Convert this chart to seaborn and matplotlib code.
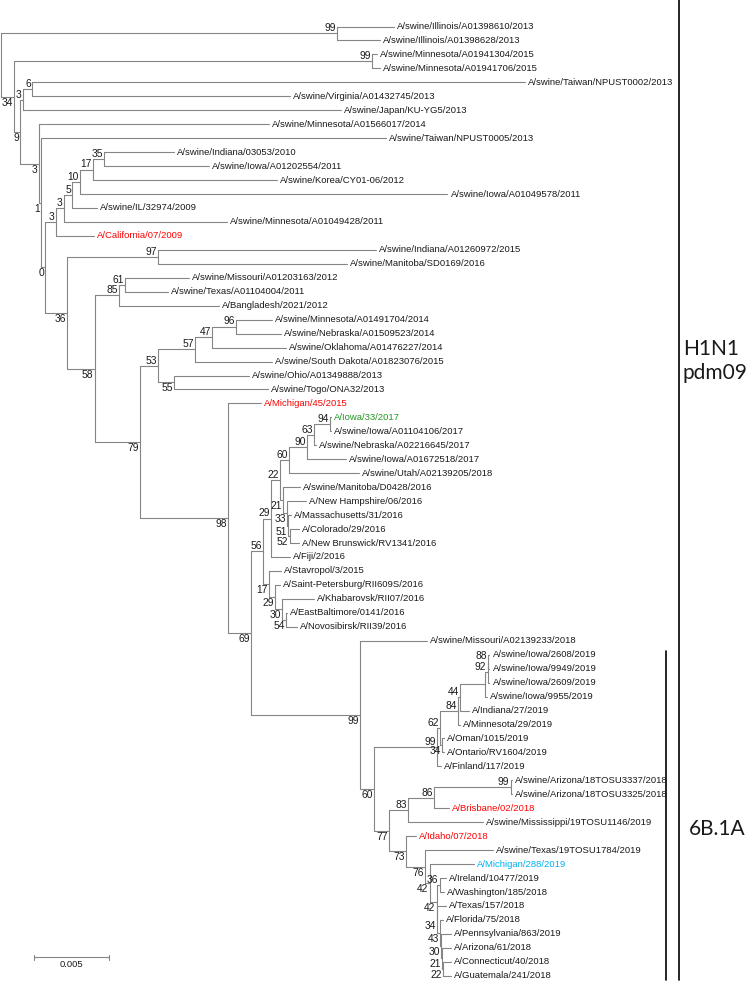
"""
Phylogenetic tree of H1N1pdm09 HA sequences (MEGA style)
"""
import numpy as np
import pandas as pd
import matplotlib
matplotlib.use("Agg")
import matplotlib.pyplot as plt
import matplotlib.transforms as mtransforms
import seaborn as sns

# leaves, top to bottom
leaf_names = [
    "A/swine/Illinois/A01398610/2013", "A/swine/Illinois/A01398628/2013",
    "A/swine/Minnesota/A01941304/2015", "A/swine/Minnesota/A01941706/2015",
    "A/swine/Taiwan/NPUST0002/2013", "A/swine/Virginia/A01432745/2013",
    "A/swine/Japan/KU-YG5/2013", "A/swine/Minnesota/A01566017/2014",
    "A/swine/Taiwan/NPUST0005/2013", "A/swine/Indiana/03053/2010",
    "A/swine/Iowa/A01202554/2011", "A/swine/Korea/CY01-06/2012",
    "A/swine/Iowa/A01049578/2011", "A/swine/IL/32974/2009",
    "A/swine/Minnesota/A01049428/2011", "A/California/07/2009",
    "A/swine/Indiana/A01260972/2015", "A/swine/Manitoba/SD0169/2016",
    "A/swine/Missouri/A01203163/2012", "A/swine/Texas/A01104004/2011",
    "A/Bangladesh/2021/2012", "A/swine/Minnesota/A01491704/2014",
    "A/swine/Nebraska/A01509523/2014", "A/swine/Oklahoma/A01476227/2014",
    "A/swine/South Dakota/A01823076/2015", "A/swine/Ohio/A01349888/2013",
    "A/swine/Togo/ONA32/2013", "A/Michigan/45/2015",
    "A/Iowa/33/2017", "A/swine/Iowa/A01104106/2017",
    "A/swine/Nebraska/A02216645/2017", "A/swine/Iowa/A01672518/2017",
    "A/swine/Utah/A02139205/2018", "A/swine/Manitoba/D0428/2016",
    "A/New Hampshire/06/2016", "A/Massachusetts/31/2016",
    "A/Colorado/29/2016", "A/New Brunswick/RV1341/2016",
    "A/Fiji/2/2016", "A/Stavropol/3/2015",
    "A/Saint-Petersburg/RII609S/2016", "A/Khabarovsk/RII07/2016",
    "A/EastBaltimore/0141/2016", "A/Novosibirsk/RII39/2016",
    "A/swine/Missouri/A02139233/2018", "A/swine/Iowa/2608/2019",
    "A/swine/Iowa/9949/2019", "A/swine/Iowa/2609/2019",
    "A/swine/Iowa/9955/2019", "A/Indiana/27/2019",
    "A/Minnesota/29/2019", "A/Oman/1015/2019",
    "A/Ontario/RV1604/2019", "A/Finland/117/2019",
    "A/swine/Arizona/18TOSU3337/2018", "A/swine/Arizona/18TOSU3325/2018",
    "A/Brisbane/02/2018", "A/swine/Mississippi/19TOSU1146/2019",
    "A/Idaho/07/2018", "A/swine/Texas/19TOSU1784/2019",
    "A/Michigan/288/2019", "A/Ireland/10477/2019",
    "A/Washington/185/2018", "A/Texas/157/2018",
    "A/Florida/75/2018", "A/Pennsylvania/863/2019",
    "A/Arizona/61/2018", "A/Connecticut/40/2018",
    "A/Guatemala/241/2018",
]

# distance from root (substitutions/site) of each leaf
leaf_depth = [
    0.02625, 0.02531, 0.02509, 0.02531, 0.03495, 0.01931, 0.02269, 0.01791,
    0.02569, 0.01158, 0.01391, 0.01842, 0.02980, 0.00640, 0.01509, 0.00625,
    0.02502, 0.02309, 0.01258, 0.01118, 0.01458, 0.01813, 0.01869, 0.01902,
    0.01807, 0.01658, 0.01785, 0.01735, 0.02205, 0.02205, 0.02102, 0.02302,
    0.02391, 0.01995, 0.02035, 0.01935, 0.01991, 0.01991, 0.01931, 0.01869,
    0.01865, 0.02091, 0.01913, 0.01975, 0.02842, 0.03260, 0.03260, 0.03260,
    0.03242, 0.03125, 0.03065, 0.02958, 0.02958, 0.02935, 0.03413, 0.03413,
    0.02987, 0.03218, 0.02773, 0.03280, 0.03158, 0.02969, 0.02958, 0.02969,
    0.02951, 0.03002, 0.03002, 0.03002, 0.03002,
]

leaf_colors = {
    "A/California/07/2009": "#ff0000",
    "A/Michigan/45/2015": "#ff0000",
    "A/Brisbane/02/2018": "#ff0000",
    "A/Idaho/07/2018": "#ff0000",
    "A/Iowa/33/2017": "#1f9a1f",
    "A/Michigan/288/2019": "#00b0f0",
}

# internal nodes: (upper child, lower child); ints are leaf indices
node_ids = [
    "root", "ill", "n34", "mn", "n9", "n3a", "n6", "n3b", "n1", "n0",
    "n3d", "n3c", "n5", "n10", "n17", "n35", "n36", "n97", "n58", "n85",
    "n61", "n79", "n53", "n57", "n47", "n96", "n55", "n98", "n69", "n56",
    "n29a", "n22", "n60a", "n90", "n63", "n94", "n21", "n33", "n51", "n52",
    "n17b", "n29b", "n30", "n54", "n99c", "n60b", "n99d", "n62", "n84", "n44",
    "niowa", "n92", "n88", "n34o", "n77", "n83", "n86", "n99e", "n73", "n76",
    "n42a", "n42b", "n36b", "n34b", "n43", "n30b", "n21b", "n22b",
]
node_children = [
    ("ill", "n34"), (0, 1), ("mn", "n9"), (2, 3), ("n3a", "n3b"),
    ("n6", 6), (4, 5), (7, "n1"), (8, "n0"), ("n3d", "n36"),
    ("n3c", 15), ("n5", 14), ("n10", 13), ("n17", 12), ("n35", 11),
    (9, 10), ("n97", "n58"), (16, 17), ("n85", "n79"), ("n61", 20),
    (18, 19), ("n53", "n98"), ("n57", "n55"), ("n47", 24), ("n96", 23),
    (21, 22), (25, 26), (27, "n69"), ("n56", "n99c"), ("n29a", "n17b"),
    ("n22", 38), ("n60a", "n21"), ("n90", 32), ("n63", 31), ("n94", 30),
    (28, 29), (33, "n33"), (34, "n51"), (35, "n52"), (36, 37),
    (39, "n29b"), (40, "n30"), (41, "n54"), (42, 43), (44, "n60b"),
    ("n99d", "n77"), ("n62", 53), ("n84", "n34o"), ("n44", 50), ("niowa", 49),
    ("n92", 48), ("n88", 47), (45, 46), (51, 52), ("n83", "n73"),
    ("n86", 57), ("n99e", 56), (54, 55), (58, "n76"), (59, "n42a"),
    (60, "n42b"), ("n36b", "n34b"), (61, 62), (63, "n43"), (64, "n30b"),
    (65, "n21b"), (66, "n22b"), (67, 68),
]
node_depth = [
    0.0, 0.02245, 0.00089, 0.02480, 0.00133, 0.00149, 0.00211, 0.00255, 0.00273, 0.00300,
    0.00367, 0.00422, 0.00478, 0.00529, 0.00615, 0.00689, 0.00445, 0.01049, 0.00627, 0.00793,
    0.00829, 0.00929, 0.01049, 0.01298, 0.01411, 0.01569, 0.01158, 0.01515, 0.01669, 0.01751,
    0.01805, 0.01862, 0.01922, 0.02045, 0.02089, 0.02195, 0.01885, 0.01911, 0.01918, 0.01927,
    0.01789, 0.01831, 0.01878, 0.01905, 0.02400, 0.02493, 0.02911, 0.02929, 0.03050, 0.03062,
    0.03227, 0.03247, 0.03253, 0.02945, 0.02589, 0.02718, 0.02889, 0.03400, 0.02705, 0.02833,
    0.02862, 0.02907, 0.02927, 0.02913, 0.02933, 0.02938, 0.02945, 0.02951,
]
node_support = [
    None, 99, 34, 99, 9, 3, 6, 3, 1, 0,
    3, 3, 5, 10, 17, 35, 36, 97, 58, 85,
    61, 79, 53, 57, 47, 96, 55, 98, 69, 56,
    29, 22, 60, 90, 63, 94, 21, 33, 51, 52,
    17, 29, 30, 54, 99, 60, 99, 62, 84, 44,
    None, 92, 88, 34, 77, 83, 86, 99, 73, 76,
    42, 42, 36, 34, 43, 30, 21, 22,
]

scale_length = 0.005

# layout constants (pixels of the 753x982 output)
PX = 1 / 15000.0          # substitutions/site per pixel
ROW = 13.96               # pixels per leaf row
TOP = 26.5                # pixel y of first leaf

children = dict(zip(node_ids, node_children))
depth = dict(zip(node_ids, node_depth))
support = dict(zip(node_ids, node_support))


def get_x(c):
    return leaf_depth[c] if isinstance(c, int) else depth[c]


def get_y(c):
    if isinstance(c, int):
        return float(c)
    a, b = children[c]
    return (get_y(a) + get_y(b)) / 2


# branch segments
rows = []
seg = 0
for nid in node_ids:
    a, b = children[nid]
    x0 = depth[nid]
    rows += [(seg, x0, get_y(a)), (seg, x0, get_y(b))]
    seg += 1
    for c in (a, b):
        rows += [(seg, x0, get_y(c)), (seg, get_x(c), get_y(c))]
        seg += 1
branches = pd.DataFrame(rows, columns=["seg", "x", "y"])

sns.set_theme(style="white")
plt.rcParams["font.family"] = ["Liberation Sans", "DejaVu Sans"]

fig = plt.figure(figsize=(7.53, 9.82), dpi=100)
ax = fig.add_axes([0, 0, 1, 1])
sns.lineplot(data=branches, x="x", y="y", units="seg", estimator=None,
             sort=False, color="#858585", linewidth=0.8, ax=ax, legend=False)

# leaf labels
for i, name in enumerate(leaf_names):
    ax.text(leaf_depth[i] + 3 * PX, i, name, fontsize=6.8, va="center",
            ha="left", color=leaf_colors.get(name, "#1a1a1a"))

# bootstrap values: above branch for upper child, below for lower child
for nid in node_ids:
    for k, c in enumerate(children[nid]):
        if isinstance(c, int) or support[c] is None:
            continue
        y = get_y(c)
        if k == 0:
            ax.text(depth[c] - 1.2 * PX, y - 2.2 / ROW, str(support[c]),
                    fontsize=7.4, ha="right", va="baseline", color="#1a1a1a")
        else:
            ax.text(depth[c] - 1.2 * PX, y + 1.0 / ROW, str(support[c]),
                    fontsize=7.4, ha="right", va="top", color="#1a1a1a")

# scale bar
sb_x = 33.3 * PX
sb_y = (957.3 - TOP) / ROW
ax.plot([sb_x, sb_x + scale_length], [sb_y, sb_y], color="#858585", lw=0.8)
for xx in (sb_x, sb_x + scale_length):
    ax.plot([xx, xx], [sb_y - 2.5 / ROW, sb_y + 2.5 / ROW], color="#858585", lw=0.8)
ax.text(sb_x + scale_length / 2, sb_y + 2.5 / ROW, f"{scale_length:g}",
        fontsize=6.8, ha="center", va="top", color="#1a1a1a")

# clade brackets
trans = mtransforms.blended_transform_factory(ax.transAxes, ax.transData)
ax.plot([679 / 753, 679 / 753], [-TOP / ROW, 68.3], color="black", lw=1.2,
        transform=trans, clip_on=False)
ax.plot([666 / 753, 666 / 753], [44.7, 68.3], color="black", lw=1.2,
        transform=trans)
ax.text(683 / 753, (361 - TOP) / ROW, "H1N1\npdm09", fontsize=15,
        family="Lato", ha="left", va="center", linespacing=1.2,
        color="#1a1a1a", transform=trans)
ax.text(689 / 753, (829 - TOP) / ROW, "6B.1A", fontsize=15,
        family="Lato", ha="left", va="center", color="#1a1a1a",
        transform=trans)

ax.set_xlim(-0.5 * PX, 752.5 * PX)
ax.set_ylim((982 - TOP) / ROW, -TOP / ROW)
ax.axis("off")

fig.savefig("out.png", dpi=100)
plt.close(fig)
